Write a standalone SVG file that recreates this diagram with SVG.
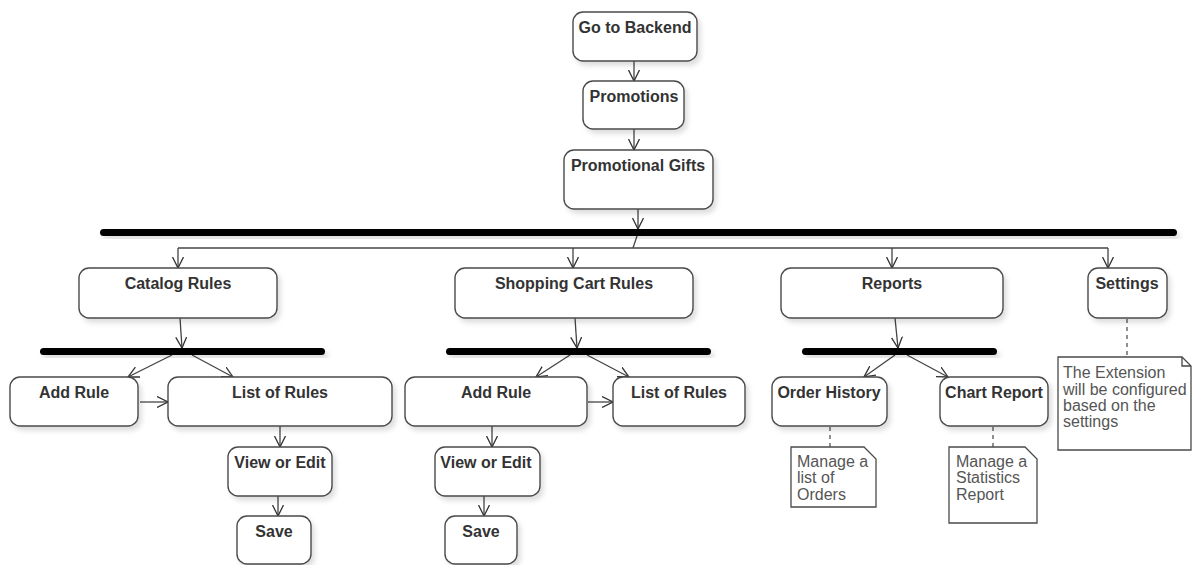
<svg xmlns="http://www.w3.org/2000/svg" width="1192" height="565" viewBox="0 0 1192 565">
  <style>
    .box { fill: #fff; stroke: #4a4a4a; stroke-width: 1.4; filter: url(#shadow); }
    .bar { fill: #000; filter: url(#shadow); }
    .lbl { font-family: "Liberation Sans", Arial, sans-serif; font-size: 16px; font-weight: bold; fill: #333; text-anchor: middle; }
    .note { fill: #fff; stroke: #4a4a4a; stroke-width: 1.3; }
    .ntxt { font-family: "Liberation Sans", Arial, sans-serif; font-size: 16px; fill: #555; }
    .flow { fill: none; stroke: #444; stroke-width: 1.3; marker-end: url(#arr); }
    .plain { fill: none; stroke: #444; stroke-width: 1.3; }
    .link { fill: none; stroke: #555; stroke-width: 1.3; stroke-dasharray: 4 4; }
  </style>
  <defs>
    <filter id="shadow" x="-10%" y="-20%" width="130%" height="160%">
      <feDropShadow dx="3" dy="4" stdDeviation="2.5" flood-color="#000" flood-opacity="0.13"/>
    </filter>
    <marker id="arr" viewBox="0 0 12 12" refX="11" refY="6" markerWidth="12" markerHeight="12" markerUnits="userSpaceOnUse" orient="auto">
      <path d="M0,0.5 L11,6 L0,11.5" fill="none" stroke="#333" stroke-width="1.3"/>
    </marker>
  </defs>

  <!-- connectors -->
  <g id="connectors">
    <line class="flow" x1="634" y1="61" x2="634" y2="81"/>
    <line class="flow" x1="634" y1="129" x2="634" y2="150"/>
    <line class="flow" x1="638" y1="209" x2="638" y2="229"/>
    <polyline class="plain" points="637,236 633,248"/>
    <line class="plain" x1="178" y1="248" x2="1108" y2="248"/>
    <line class="flow" x1="178" y1="248" x2="178" y2="268"/>
    <line class="flow" x1="573" y1="248" x2="573" y2="268"/>
    <line class="flow" x1="892" y1="248" x2="892" y2="268"/>
    <line class="flow" x1="1108" y1="248" x2="1108" y2="268"/>

    <line class="flow" x1="180" y1="318" x2="182" y2="348"/>
    <line class="flow" x1="172" y1="355" x2="128" y2="377"/>
    <line class="flow" x1="192" y1="355" x2="233" y2="377"/>
    <line class="flow" x1="140" y1="402" x2="168" y2="402"/>
    <line class="flow" x1="280" y1="426" x2="280" y2="447"/>
    <line class="flow" x1="278" y1="496" x2="278" y2="516"/>

    <line class="flow" x1="575" y1="318" x2="577" y2="348"/>
    <line class="flow" x1="570" y1="355" x2="536" y2="377"/>
    <line class="flow" x1="587" y1="355" x2="629" y2="377"/>
    <line class="flow" x1="588" y1="402" x2="613" y2="402"/>
    <line class="flow" x1="492" y1="426" x2="492" y2="447"/>
    <line class="flow" x1="484" y1="496" x2="484" y2="516"/>

    <line class="flow" x1="895" y1="318" x2="898" y2="348"/>
    <line class="flow" x1="895" y1="355" x2="864" y2="377"/>
    <line class="flow" x1="907" y1="355" x2="948" y2="377"/>

    <line class="link" x1="1127" y1="319" x2="1127" y2="357"/>
    <line class="link" x1="830" y1="427" x2="830" y2="447"/>
    <line class="link" x1="993" y1="427" x2="993" y2="447"/>
  </g>

  <!-- synchronisation bars -->
  <g id="fork-main"><rect class="bar" x="100" y="229" width="1077" height="7" rx="3.5"/></g>
  <g id="fork-catalog"><rect class="bar" x="40" y="348" width="285" height="7" rx="3.5"/></g>
  <g id="fork-cart"><rect class="bar" x="446" y="348" width="265" height="7" rx="3.5"/></g>
  <g id="fork-reports"><rect class="bar" x="802" y="348" width="195" height="7" rx="3.5"/></g>

  <!-- activities -->
  <g id="go-backend"><rect class="box" x="573" y="12" width="124" height="49" rx="10"/><text class="lbl" x="635" y="33">Go to Backend</text></g>
  <g id="promotions"><rect class="box" x="583" y="81" width="101" height="48" rx="10"/><text class="lbl" x="634" y="102">Promotions</text></g>
  <g id="promo-gifts"><rect class="box" x="564" y="150" width="149" height="59" rx="10"/><text class="lbl" x="638" y="171">Promotional Gifts</text></g>

  <g id="catalog-rules"><rect class="box" x="79" y="268" width="198" height="50" rx="10"/><text class="lbl" x="178" y="289">Catalog Rules</text></g>
  <g id="cart-rules"><rect class="box" x="455" y="268" width="238" height="50" rx="10"/><text class="lbl" x="574" y="289">Shopping Cart Rules</text></g>
  <g id="reports"><rect class="box" x="781" y="268" width="222" height="50" rx="10"/><text class="lbl" x="892" y="289">Reports</text></g>
  <g id="settings"><rect class="box" x="1088" y="268" width="79" height="50" rx="10"/><text class="lbl" x="1127" y="289">Settings</text></g>

  <g id="cat-add-rule"><rect class="box" x="10" y="377" width="128" height="49" rx="10"/><text class="lbl" x="74" y="398">Add Rule</text></g>
  <g id="cat-list-rules"><rect class="box" x="168" y="377" width="224" height="49" rx="10"/><text class="lbl" x="280" y="398">List of Rules</text></g>
  <g id="cat-view-edit"><rect class="box" x="228" y="447" width="104" height="49" rx="10"/><text class="lbl" x="280" y="468">View or Edit</text></g>
  <g id="cat-save"><rect class="box" x="237" y="516" width="74" height="48" rx="10"/><text class="lbl" x="274" y="537">Save</text></g>

  <g id="cart-add-rule"><rect class="box" x="405" y="377" width="182" height="49" rx="10"/><text class="lbl" x="496" y="398">Add Rule</text></g>
  <g id="cart-list-rules"><rect class="box" x="613" y="377" width="132" height="49" rx="10"/><text class="lbl" x="679" y="398">List of Rules</text></g>
  <g id="cart-view-edit"><rect class="box" x="435" y="447" width="105" height="49" rx="10"/><text class="lbl" x="486" y="468">View or Edit</text></g>
  <g id="cart-save"><rect class="box" x="445" y="516" width="72" height="48" rx="10"/><text class="lbl" x="481" y="537">Save</text></g>

  <g id="order-history"><rect class="box" x="772" y="377" width="115" height="49" rx="10"/><text class="lbl" x="829" y="398">Order History</text></g>
  <g id="chart-report"><rect class="box" x="940" y="377" width="108" height="49" rx="10"/><text class="lbl" x="994" y="398">Chart Report</text></g>

  <!-- notes -->
  <g id="note-orders">
    <path class="note" d="M791,447 L864,447 L876,459 L876,507 L791,507 Z"/>
    <text class="ntxt" x="797" y="467">Manage a</text>
    <text class="ntxt" x="797" y="483">list of</text>
    <text class="ntxt" x="797" y="500">Orders</text>
  </g>
  <g id="note-statistics">
    <path class="note" d="M949,447 L1025,447 L1037,459 L1037,523 L949,523 Z"/>
    <text class="ntxt" x="956" y="467">Manage a</text>
    <text class="ntxt" x="956" y="483">Statistics</text>
    <text class="ntxt" x="956" y="500">Report</text>
  </g>
  <g id="note-settings">
    <path class="note" d="M1058,357 L1182,357 L1191,366 L1191,450 L1058,450 Z"/>
    <path class="plain" d="M1182,357 L1182,366 L1191,366"/>
    <text class="ntxt" x="1063" y="378">The Extension</text>
    <text class="ntxt" x="1063" y="395">will be configured</text>
    <text class="ntxt" x="1063" y="411">based on the</text>
    <text class="ntxt" x="1063" y="427">settings</text>
  </g>
</svg>
